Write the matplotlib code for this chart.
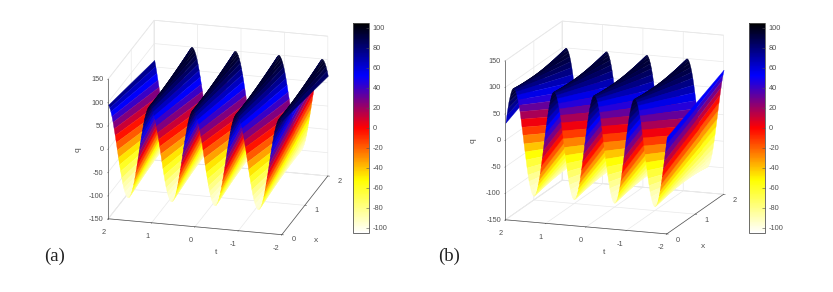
import matplotlib
matplotlib.use('Agg')
import matplotlib.pyplot as plt
import numpy as np
from matplotlib.cm import ScalarMappable
from matplotlib.colors import LinearSegmentedColormap, Normalize
from mpl_toolkits.mplot3d.art3d import Poly3DCollection

plt.rcParams['font.family'] = ['Liberation Sans', 'DejaVu Sans']
plt.rcParams['axes.unicode_minus'] = False

W, H = 833, 292

# q over one unit of t, sampled from t=-2 in steps of 0.025 (the wave repeats four times)
t_start = -2.0
t_step = 0.025
periods = 4

q_a_x0 = [95, 99, 100, 99, 95, 89, 81, 71, 59, 45, 31, 16, 0, -16, -31, -45, -59, -71, -81, -89,
          -95, -99, -100, -99, -95, -89, -81, -71, -59, -45, -31, -16, 0, 16, 31, 45, 59, 71, 81, 89]
q_a_x2 = [65, 76, 85, 92, 97, 100, 100, 97, 92, 85, 76, 65, 52, 38, 23, 8, -8, -23, -38, -52,
          -65, -76, -85, -92, -97, -100, -100, -97, -92, -85, -76, -65, -52, -38, -23, -8, 8, 23, 38, 52]
q_b_x0 = [33, 18, 3, -13, -28, -43, -57, -69, -79, -88, -94, -98, -100, -99, -96, -90, -82, -73, -61, -48,
          -33, -18, -3, 13, 28, 43, 57, 69, 79, 88, 94, 98, 100, 99, 96, 90, 82, 73, 61, 48]
q_b_x2 = [85, 76, 65, 52, 38, 23, 8, -8, -23, -38, -52, -65, -76, -85, -92, -97, -100, -100, -97, -92,
          -85, -76, -65, -52, -38, -23, -8, 8, 23, 38, 52, 65, 76, 85, 92, 97, 100, 100, 97, 92]

x_rows = [0, 2]
t_ticks = [2, 1, 0, -1, -2]
x_ticks = [0, 1, 2]
q_ticks = [-150, -100, -50, 0, 50, 100, 150]
cbar_ticks = [-100, -80, -60, -40, -20, 0, 20, 40, 60, 80, 100]
clim = (-105, 105)

cmap = LinearSegmentedColormap.from_list(
    'hot_blue', ['#ffffff', '#ffff00', '#ff0000', '#0000ff', '#000000'], N=256)
norm = Normalize(*clim)
GRAY = '#505050'


def px_box(left, top, right, bottom):
    return [left / W, 1 - bottom / H, (right - left) / W, (bottom - top) / H]


def draw_wave(fig, box, elev, azim, aspect, zoom, row0, row2):
    ax = fig.add_axes(px_box(*box), projection='3d', computed_zorder=False)
    ax.patch.set_alpha(0)
    ax.set_proj_type('ortho')
    ax.view_init(elev=elev, azim=azim)
    ax.set_box_aspect(aspect, zoom=zoom)
    ax.set_xlim(2, -2, view_margin=0)
    ax.set_ylim(0, 2, view_margin=0)
    ax.set_zlim(-150, 150, view_margin=0)

    q0 = np.concatenate([np.tile(row0, periods), row0[:1]])
    q2 = np.concatenate([np.tile(row2, periods), row2[:1]])
    t = t_start + t_step * np.arange(len(q0))

    # back to front by hand, the depth sort of mplot3d breaks on the steep flanks
    order = np.arange(len(t) - 2, -1, -1)
    for n, i in enumerate(order):
        verts = [[(t[i], x_rows[0], q0[i]), (t[i + 1], x_rows[0], q0[i + 1]),
                  (t[i + 1], x_rows[1], q2[i + 1]), (t[i], x_rows[1], q2[i])]]
        c = cmap(norm((q0[i] + q0[i + 1] + q2[i] + q2[i + 1]) / 4))
        ax.add_collection3d(Poly3DCollection(verts, facecolors=[c], edgecolors=[c],
                                             linewidths=0.25, zorder=n + 5))

    ax.set_xticks(t_ticks)
    ax.set_yticks(x_ticks)
    ax.set_zticks(q_ticks)
    for axis in (ax.xaxis, ax.yaxis, ax.zaxis):
        axis.set_pane_color((1, 1, 1, 1))
        axis.pane.set_edgecolor('#e4e4e4')
        axis.pane.set_linewidth(0.5)
        axis.line.set_color(GRAY)
        axis.line.set_linewidth(0.5)
        axis._axinfo['grid'].update(color='#e9e9e9', linewidth=0.5)
        axis._axinfo['tick'].update(inward_factor=0.12, outward_factor=0.0,
                                    linewidth={True: 0.4, False: 0.4}, color=GRAY)
        axis.set_tick_params(labelsize=5.3, colors=GRAY, pad=-4)
    ax.xaxis.set_tick_params(pad=-3)
    ax.yaxis.set_tick_params(pad=-2.5)
    ax.zaxis.set_tick_params(pad=-6)
    for label in ax.get_xticklabels():
        label.set_ha('right')
    for label in ax.get_yticklabels():
        label.set_ha('left')
        label.set_va('bottom')
    for label in ax.get_zticklabels():
        label.set_ha('right')
        label.set_va('center')
    ax.zaxis.set_ticks_position('lower')
    return ax


def draw_bar(fig, box):
    cax = fig.add_axes(px_box(*box))
    cb = fig.colorbar(ScalarMappable(norm=norm, cmap=cmap), cax=cax, ticks=cbar_ticks)
    cb.ax.tick_params(labelsize=5.3, colors=GRAY, length=2, width=0.4, direction='in', pad=2.5)
    cb.outline.set_edgecolor('#555555')
    cb.outline.set_linewidth(0.6)


def axis_text(fig, px, py, s, rotation=0):
    fig.text(px / W, 1 - py / H, s, fontsize=6, color=GRAY, rotation=rotation,
             ha='center', va='center')


fig = plt.figure(figsize=(W / 100, H / 100), dpi=100)

draw_wave(fig, (64.5, 1, 364.5, 261), 20, -75, (180, 178, 149), 1.095, q_a_x0, q_a_x2)
draw_bar(fig, (353, 23, 369, 233))
axis_text(fig, 216, 252, 't')
axis_text(fig, 316, 241, 'x')
axis_text(fig, 78, 150, 'q', rotation=90)

draw_wave(fig, (461, 1, 761, 261), 14.3, -70.5, (172, 171, 165), 1.09, q_b_x0, q_b_x2)
draw_bar(fig, (749, 23, 765, 233))
axis_text(fig, 604, 252, 't')
axis_text(fig, 703, 246, 'x')
axis_text(fig, 473, 141, 'q', rotation=90)

fig.text(44 / W, 1 - 261 / H, '(a)', family=['Liberation Serif'], fontsize=13.5, color='#222222')
fig.text(438 / W, 1 - 261 / H, '(b)', family=['Liberation Serif'], fontsize=13.5, color='#222222')

fig.savefig('out.png', dpi=100)
